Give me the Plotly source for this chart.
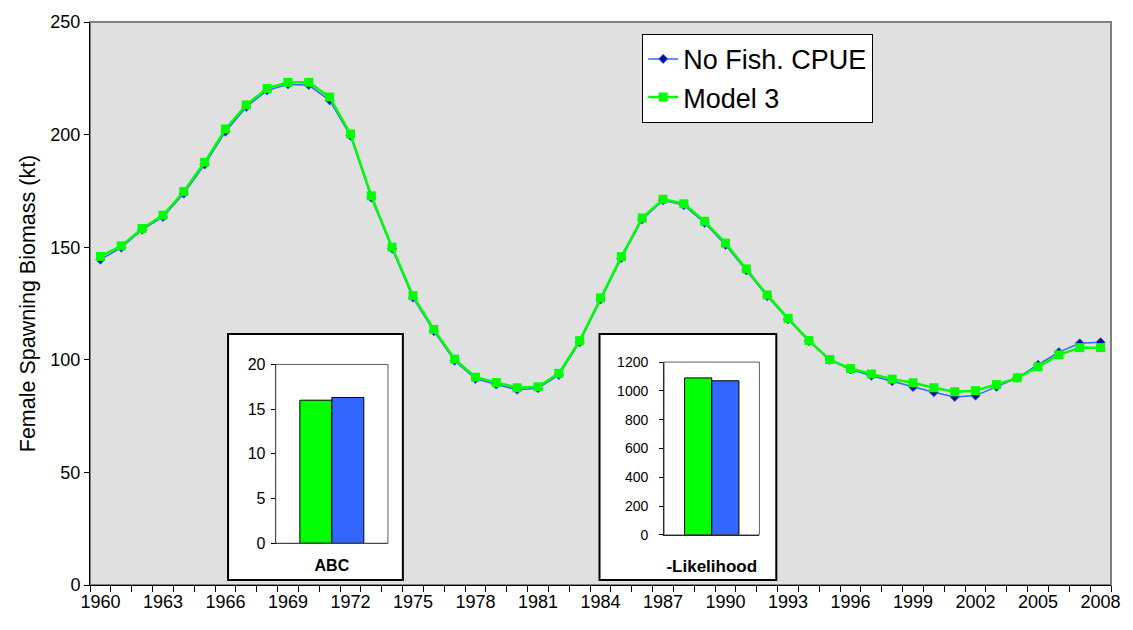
import plotly.graph_objects as go

# Female spawning biomass (kt) by year for two model runs
years = list(range(1960, 2009))
no_fish_cpue = [
    144.5, 149.8, 157.8, 163.4, 173.8, 186.7, 201.3, 212.3, 219.6, 222.3,
    222.0, 215.2, 199.5, 172.0, 149.3, 127.6, 112.7, 99.6, 91.5, 89.0,
    86.7, 87.4, 93.3, 107.8, 126.8, 145.1, 162.4, 170.8, 168.7, 160.8,
    151.0, 139.7, 128.2, 118.0, 108.3, 99.9, 95.7, 92.9, 90.5, 87.9,
    85.6, 83.5, 84.1, 88.0, 92.0, 97.8, 103.4, 107.3, 107.8,
]
model_3 = [
    145.9, 150.6, 158.3, 164.2, 174.7, 187.7, 202.5, 213.2, 220.5, 223.2,
    223.2, 216.7, 200.3, 172.8, 150.0, 128.5, 113.5, 100.3, 92.3, 89.9,
    87.6, 88.0, 94.0, 108.5, 127.5, 145.8, 163.0, 171.3, 169.3, 161.5,
    151.8, 140.4, 128.8, 118.4, 108.6, 100.1, 96.1, 93.7, 91.4, 89.8,
    87.6, 85.8, 86.3, 89.0, 92.0, 96.9, 102.2, 105.4, 105.4,
]
year_ticks = list(range(1960, 2009, 3))

# Inset comparisons
abc_model_3, abc_no_fish = 16.0, 16.3
lik_model_3, lik_no_fish = 1090, 1070

FONT = "Liberation Sans, Arial, sans-serif"
GREEN = "#00FF00"
BLUE = "#3366FF"

fig = go.Figure()

fig.add_trace(go.Scatter(
    x=years, y=no_fish_cpue, name="No Fish. CPUE", mode="lines+markers",
    line=dict(color=BLUE, width=1.5),
    marker=dict(symbol="diamond", size=7, color="#10108C",
                line=dict(color=BLUE, width=1)),
    legendgroup="a",
))
fig.add_trace(go.Scatter(
    x=years, y=model_3, name="Model 3", mode="lines+markers",
    line=dict(color=GREEN, width=2.5),
    marker=dict(symbol="square", size=9, color=GREEN),
    legendgroup="b",
))

# ABC inset bars
fig.add_trace(go.Bar(x=["ABC"], y=[abc_model_3], xaxis="x2", yaxis="y2",
                     marker=dict(color=GREEN, line=dict(color="black", width=1)),
                     offsetgroup="g", showlegend=False))
fig.add_trace(go.Bar(x=["ABC"], y=[abc_no_fish], xaxis="x2", yaxis="y2",
                     marker=dict(color=BLUE, line=dict(color="black", width=1)),
                     offsetgroup="b", showlegend=False))
# -Likelihood inset bars
fig.add_trace(go.Bar(x=["-Likelihood"], y=[lik_model_3], xaxis="x3", yaxis="y3",
                     marker=dict(color=GREEN, line=dict(color="black", width=1)),
                     offsetgroup="g", showlegend=False))
fig.add_trace(go.Bar(x=["-Likelihood"], y=[lik_no_fish], xaxis="x3", yaxis="y3",
                     marker=dict(color=BLUE, line=dict(color="black", width=1)),
                     offsetgroup="b", showlegend=False))

W, H = 1133, 630
L, R, T, B = 90, 1118, 15, 585
pw, ph = R - L, B - T


def px_x(x):
    return (x - L) / pw


def px_y(y):
    return (B - y) / ph


shapes = [
    # grey plot area with its frame
    dict(type="rect", xref="paper", yref="paper", x0=0, x1=1, y0=0, y1=1,
         fillcolor="#E0E0E0", line=dict(color="#808080", width=2), layer="below"),
    # inset boxes
    dict(type="rect", xref="paper", yref="paper",
         x0=px_x(229), x1=px_x(405), y0=px_y(580), y1=px_y(331),
         fillcolor="white", line=dict(color="black", width=2), layer="below"),
    dict(type="rect", xref="paper", yref="paper",
         x0=px_x(603), x1=px_x(781), y0=px_y(580), y1=px_y(331),
         fillcolor="white", line=dict(color="black", width=2), layer="below"),
    # inset plot frames
    dict(type="rect", xref="x2 domain", yref="y2 domain", x0=0, x1=1, y0=0, y1=1,
         line=dict(color="#606060", width=1), layer="above"),
    dict(type="rect", xref="x3 domain", yref="y3 domain", x0=0, x1=1, y0=0, y1=1,
         line=dict(color="#606060", width=1), layer="above"),
]

fig.update_layout(
    width=W, height=H,
    margin=dict(l=L, r=W - R, t=T, b=H - B),
    paper_bgcolor="white",
    plot_bgcolor="white",
    font=dict(family=FONT, color="black"),
    barmode="group", bargap=0.43, bargroupgap=0,
    showlegend=True,
    legend=dict(
        x=px_x(646), y=px_y(27), xanchor="left", yanchor="top",
        bgcolor="white", bordercolor="black", borderwidth=1,
        font=dict(size=27, family=FONT), tracegroupgap=0,
        traceorder="grouped",
    ),
    xaxis=dict(
        range=[1959.5, 2008.5], tickvals=year_ticks,
        ticktext=[str(y) for y in year_ticks],
        ticks="", showgrid=False, zeroline=False,
        showline=True, linecolor="black", linewidth=1,
        tickfont=dict(size=18),
        minor=dict(tick0=1959.5, dtick=1, ticks="outside", ticklen=6,
                   tickcolor="black", showgrid=False),
    ),
    yaxis=dict(
        range=[0, 250], dtick=50, ticks="outside", ticklen=5, tickcolor="black",
        showgrid=False, zeroline=False, showline=True, linecolor="black",
        linewidth=1, tickfont=dict(size=18),
        title=dict(text="Female Spawning Biomass (kt)", font=dict(size=21.5),
                   standoff=8),
    ),
    xaxis2=dict(
        domain=[px_x(277), px_x(390)], anchor="y2",
        tickvals=["ABC"], ticktext=["<b>ABC</b>"], ticks="",
        showline=True, linecolor="black", showgrid=False,
        tickfont=dict(size=16), ticklabelstandoff=8,
    ),
    yaxis2=dict(
        domain=[px_y(542.7), px_y(361.7)], anchor="x2",
        range=[0, 20], dtick=5, ticks="outside", ticklen=4, tickcolor="black",
        showline=True, linecolor="black", showgrid=False, zeroline=False,
        tickfont=dict(size=16), ticklabelstandoff=2,
    ),
    xaxis3=dict(
        domain=[px_x(668), px_x(764)], anchor="y3",
        tickvals=["-Likelihood"], ticktext=["<b>-Likelihood</b>"], ticks="",
        showline=True, linecolor="black", showgrid=False,
        tickfont=dict(size=17), ticklabelstandoff=16,
    ),
    yaxis3=dict(
        domain=[px_y(534.3), px_y(359.3)], anchor="x3",
        range=[0, 1200], dtick=200, ticks="outside", ticklen=4, tickcolor="black",
        showline=True, linecolor="black", showgrid=False, zeroline=False,
        tickfont=dict(size=14), ticklabelstandoff=8,
    ),
    shapes=shapes,
)

fig.write_html("out.html")
